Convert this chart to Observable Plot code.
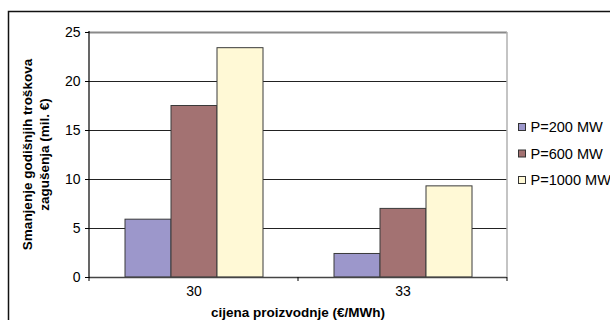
<!DOCTYPE html>
<html>
<head>
<meta charset="utf-8">
<script src="https://cdn.jsdelivr.net/npm/d3@7"></script>
<script src="https://cdn.jsdelivr.net/npm/@observablehq/plot@0.6"></script>
<style>
  html, body { margin: 0; padding: 0; background: #fff; }
  #chart { width: 610px; height: 320px; overflow: hidden; }
  svg { display: block; }
</style>
</head>
<body>
<div id="chart"></div>
<script>
// Production price groups (€/MWh)
const prices = ["30", "33"];
// Transmission capacity series
const series = ["P=200 MW", "P=600 MW", "P=1000 MW"];
// Reduction of annual congestion costs (mil. €), per series, in price order
const p200 = [5.9, 2.4];
const p600 = [17.5, 7.0];
const p1000 = [23.4, 9.3];
const yTicks = [0, 5, 10, 15, 20, 25];
const colors = ["#9c97cb", "#a37272", "#fff9d6"];

const values = [p200, p600, p1000];
const data = [];
prices.forEach((price, i) => {
  series.forEach((s, j) => data.push({price, series: s, value: values[j][i]}));
});

const font = "'Liberation Sans', Arial, sans-serif";

const chart = Plot.plot({
  width: 610,
  height: 320,
  marginLeft: 89,
  marginRight: 103,
  marginTop: 32,
  marginBottom: 43,
  style: {fontFamily: font, fontSize: "14px", color: "#000", background: "#fff"},
  fx: {domain: prices, padding: 0, label: null, axis: "bottom", tickSize: 0, tickPadding: 9},
  x: {domain: series, paddingInner: 0, paddingOuter: 0.75, axis: null},
  y: {domain: [0, 25], ticks: yTicks, tickSize: 4, tickPadding: 5, label: null, tickFormat: d => String(d)},
  color: {domain: series, range: colors},
  marks: [
    Plot.ruleY(yTicks.filter(d => d > 0 && d < 25), {stroke: "#222", strokeWidth: 1}),
    Plot.ruleY([25], {stroke: "#8a8a8a", strokeWidth: 2}),
    Plot.barY(data, {fx: "price", x: "series", y: "value", fill: "series", stroke: "#3a3a3a", strokeWidth: 1}),
    Plot.ruleY([0], {stroke: "#444", strokeWidth: 1.5})
  ]
});

const svg = d3.select(chart);
const fx = chart.scale("fx");
const y = chart.scale("y");
const color = chart.scale("color");
const left = fx.apply(prices[0]);
const right = fx.apply(prices[prices.length - 1]) + fx.bandwidth;
const y0 = y.apply(0);
const yTop = y.apply(25);

// plot-area border: right edge in grey, value axis in black
svg.append("line").attr("x1", right).attr("x2", right).attr("y1", yTop).attr("y2", y0)
  .attr("stroke", "#b0b0b0").attr("stroke-width", 1.5);
svg.append("line").attr("x1", left).attr("x2", left).attr("y1", yTop - 1).attr("y2", y0 + 1)
  .attr("stroke", "#000").attr("stroke-width", 1.2);

// category axis ticks between groups
const bounds = prices.map(p => fx.apply(p)).concat([right]);
svg.append("g").selectAll("line").data(bounds).join("line")
  .attr("x1", d => d).attr("x2", d => d).attr("y1", y0).attr("y2", y0 + 4)
  .attr("stroke", "#000").attr("stroke-width", 1);

// axis titles
const yMid = (y0 + yTop) / 2;
const yTitle = svg.append("text")
  .attr("transform", `translate(27,${yMid}) rotate(-90)`)
  .attr("text-anchor", "middle")
  .style("font", `bold 13.5px ${font}`);
yTitle.append("tspan").attr("x", 0).attr("dy", "0.35em").text("Smanjenje godišnjih troškova");
yTitle.append("tspan").attr("x", 0).attr("dy", "1.3em").text("zagušenja (mil. €)");

svg.append("text")
  .attr("x", (left + right) / 2).attr("y", 312).attr("dy", "0.35em")
  .attr("text-anchor", "middle")
  .style("font", `bold 13.5px ${font}`)
  .text("cijena proizvodnje (€/MWh)");

// legend (slightly wide lettering)
const legend = svg.append("g").attr("transform", "translate(518,127)");
series.forEach((s, i) => {
  const g = legend.append("g").attr("transform", `translate(0,${i * 26.5})`);
  g.append("rect").attr("x", 0.5).attr("y", -3.5).attr("width", 7).attr("height", 7)
    .attr("fill", color.apply(s)).attr("stroke", "#333").attr("stroke-width", 1);
  g.append("text").attr("transform", "translate(12.5,0) scale(1.04,1)")
    .attr("dy", "0.36em").attr("text-anchor", "start")
    .style("font", `14px ${font}`).text(s);
});

// outer chart frame
svg.append("rect").attr("x", 8.5).attr("y", 11.5).attr("width", 800).attr("height", 500)
  .attr("fill", "none").attr("stroke", "#111").attr("stroke-width", 1.5);

document.getElementById("chart").appendChild(chart);
</script>
</body>
</html>
